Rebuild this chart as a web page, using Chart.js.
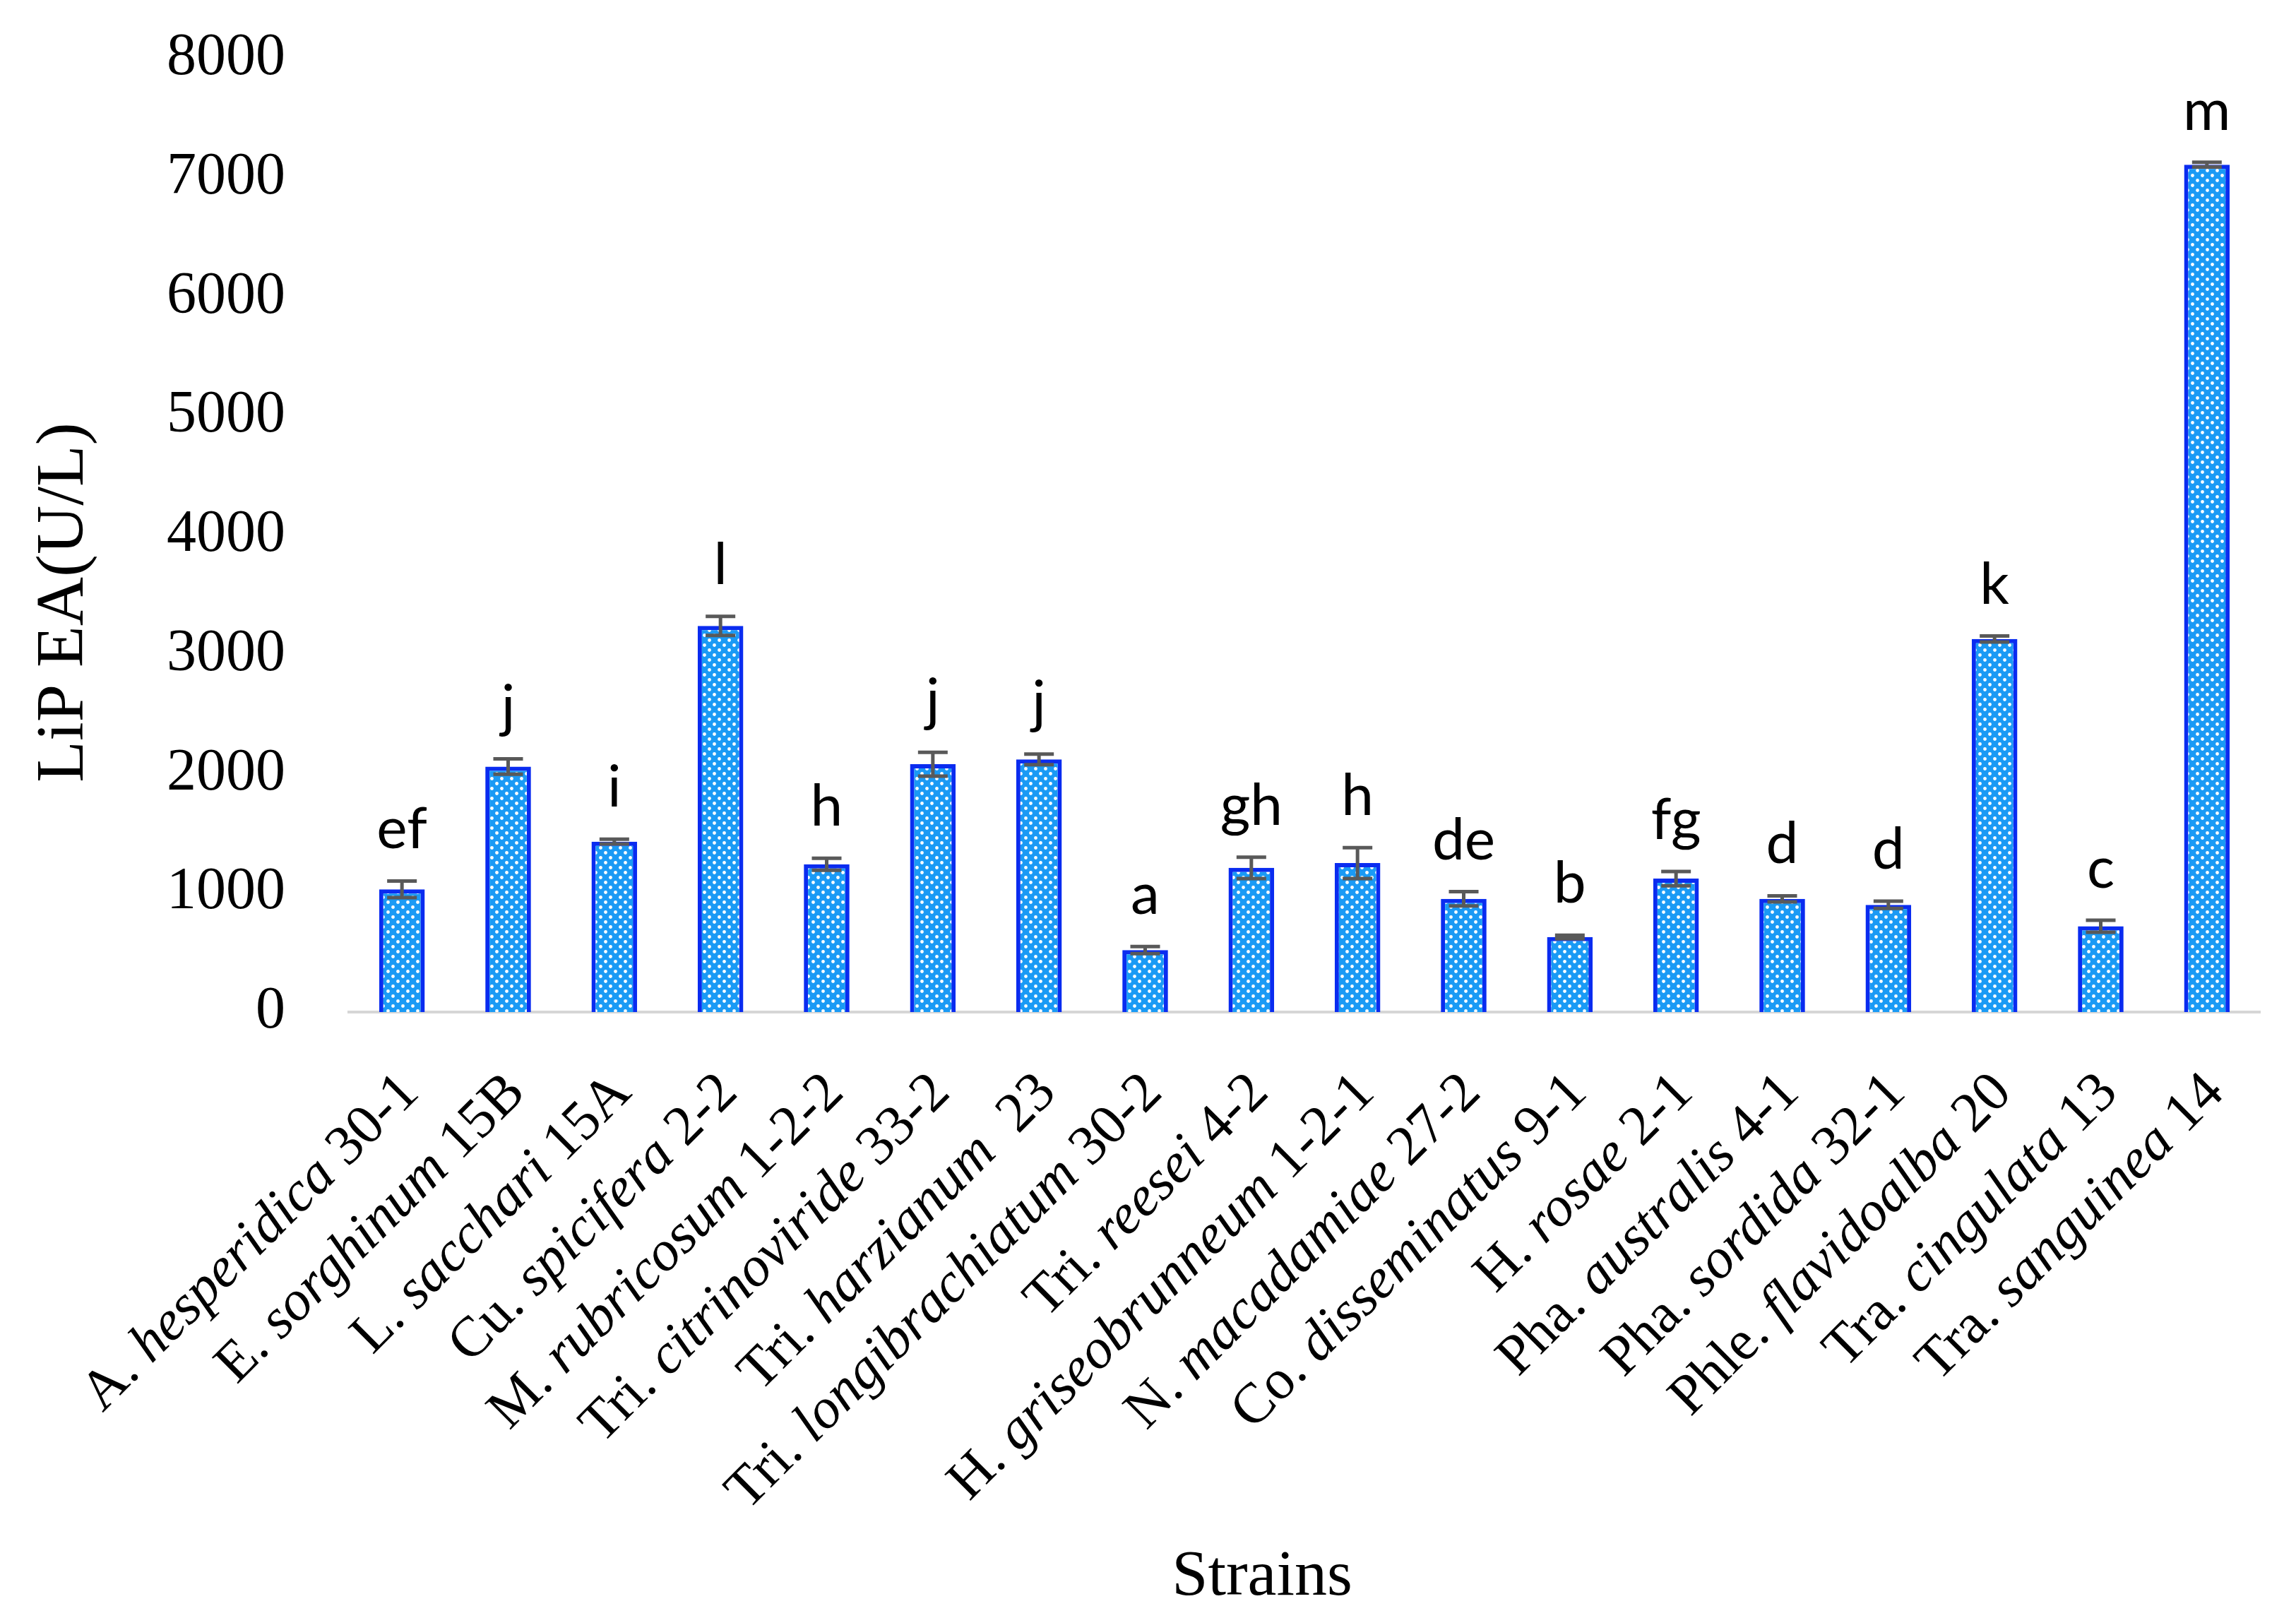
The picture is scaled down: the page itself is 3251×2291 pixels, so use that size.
<!DOCTYPE html>
<html lang="en">
<head>
<meta charset="UTF-8">
<script src="https://cdn.jsdelivr.net/npm/chart.js@4.4.0/dist/chart.umd.min.js"></script>
<title>LiP EA</title>
<style>
  html, body { margin: 0; padding: 0; background: #fff; }
  #wrap { width: 3251px; height: 2291px; }
</style>
</head>
<body>
<div id="wrap"><canvas id="myChart" width="3251" height="2291"></canvas></div>
<script>
// strains on the x axis (genus abbreviation, italic epithet, strain number)
var strains = [
  'A. hesperidica 30-1', 'E. sorghinum 15B', 'L. sacchari 15A', 'Cu. spicifera 2-2',
  'M. rubricosum 1-2-2', 'Tri. citrinoviride 33-2', 'Tri. harzianum  23',
  'Tri. longibrachiatum 30-2', 'Tri. reesei 4-2', 'H. griseobrunneum 1-2-1',
  'N. macadamiae 27-2', 'Co. disseminatus 9-1', 'H. rosae 2-1', 'Pha. australis 4-1',
  'Pha. sordida 32-1', 'Phle. flavidoalba 20', 'Tra. cingulata 13', 'Tra. sanguinea 14'
];
// LiP enzyme activity, U/L
var lipValues = [1030, 2060, 1430, 3240, 1240, 2080, 2120, 520, 1210, 1250, 950, 630, 1120, 950, 900, 3130, 720, 7110];
var lipErrors = [70, 65, 20, 80, 50, 100, 45, 30, 90, 130, 60, 15, 60, 25, 30, 25, 50, 20];
var groupLetters = ['ef', 'j', 'i', 'l', 'h', 'j', 'j', 'a', 'gh', 'h', 'de', 'b', 'fg', 'd', 'd', 'k', 'c', 'm'];
var yMin = 0, yMax = 8000, yStep = 1000;
var yTitle = 'LiP EA(U/L)';
var xTitle = 'Strains';

var serif = '"Liberation Serif", "DejaVu Serif", serif';

// light blue fill with white dots
function dotPattern(ctx) {
    var c = document.createElement('canvas');
    c.width = 14; c.height = 14;
    var g = c.getContext('2d');
    g.fillStyle = '#1a9af5';
    g.fillRect(0, 0, 14, 14);
    g.fillStyle = '#ffffff';
    [[3.5, 3.5], [10.5, 10.5]].forEach(function (p) {
        g.beginPath();
        g.arc(p[0], p[1], 2.4, 0, Math.PI * 2);
        g.fill();
    });
    return ctx.createPattern(c, 'repeat');
}

var errorBars = {
    id: 'errorBars',
    afterDatasetsDraw: function (chart) {
        var ctx = chart.ctx, y = chart.scales.y;
        var meta = chart.getDatasetMeta(0);
        ctx.save();
        meta.data.forEach(function (bar, i) {
            var x = bar.x;
            var top = y.getPixelForValue(lipValues[i] + lipErrors[i]);
            var bot = y.getPixelForValue(lipValues[i] - lipErrors[i]);
            ctx.strokeStyle = '#595959';
            ctx.lineWidth = 5;
            ctx.beginPath();
            ctx.moveTo(x, top); ctx.lineTo(x, bot);
            ctx.moveTo(x - 21, top); ctx.lineTo(x + 21, top);
            ctx.moveTo(x - 21, bot); ctx.lineTo(x + 21, bot);
            ctx.stroke();
            // significance letter
            ctx.fillStyle = '#000';
            ctx.font = '82px Lato, "Open Sans", sans-serif';
            ctx.textAlign = 'center';
            ctx.textBaseline = 'alphabetic';
            ctx.fillText(groupLetters[i], x, top - 46);
        });
        ctx.restore();
    }
};

// rotated strain names with italic species epithet, plus axis titles
var strainLabels = {
    id: 'strainLabels',
    afterDraw: function (chart) {
        var ctx = chart.ctx, xs = chart.scales.x, area = chart.chartArea;
        var base = area.bottom;
        var up = '80px ' + serif, it = 'italic 80px ' + serif;
        ctx.save();
        ctx.fillStyle = '#000';
        ctx.textBaseline = 'middle';
        ctx.textAlign = 'left';
        strains.forEach(function (name, i) {
            var a = name.indexOf(' '), b = name.lastIndexOf(' ');
            var parts = [[name.slice(0, a), up], [name.slice(a, b), it], [name.slice(b), up]];
            var total = 0;
            parts.forEach(function (p) { ctx.font = p[1]; total += ctx.measureText(p[0]).width; });
            ctx.save();
            ctx.translate(xs.getPixelForValue(i) + 12, base + 102);
            ctx.rotate(-Math.PI / 4);
            var cx = -total;
            parts.forEach(function (p) {
                ctx.font = p[1];
                ctx.fillText(p[0], cx, 0);
                cx += ctx.measureText(p[0]).width;
            });
            ctx.restore();
        });

        // axis titles
        ctx.textAlign = 'center';
        ctx.font = '92px ' + serif;
        ctx.fillText(xTitle, (area.left + area.right) / 2 - 60, 2234);
        ctx.save();
        ctx.translate(92, (area.top + area.bottom) / 2 + 95);
        ctx.rotate(-Math.PI / 2);
        ctx.font = '96px ' + serif;
        ctx.fillText(yTitle, 0, 0);
        ctx.restore();
        ctx.restore();
    }
};

var ctx = document.getElementById('myChart').getContext('2d');

var myChart = new Chart(ctx, {
    type: 'bar',
    data: {
        labels: strains,
        datasets: [{
            data: lipValues,
            backgroundColor: dotPattern(ctx),
            borderColor: '#0a2cf0',
            borderWidth: 6,
            categoryPercentage: 1.0,
            barPercentage: 0.43
        }]
    },
    options: {
        responsive: false,
        devicePixelRatio: 1,
        animation: false,
        layout: { padding: { top: 83, left: 30, right: 51, bottom: 0 } },
        plugins: {
            legend: { display: false },
            tooltip: { enabled: false }
        },
        scales: {
            x: {
                grid: { display: false },
                border: { display: true, color: '#d6d6d6', width: 4 },
                ticks: { display: false },
                afterFit: function (scale) { scale.height = 858; }
            },
            y: {
                min: yMin,
                max: yMax,
                grid: { display: false, drawTicks: true, tickLength: 90 },
                border: { display: false },
                ticks: {
                    stepSize: yStep,
                    padding: 0,
                    color: '#000',
                    font: { family: serif, size: 84 },
                    callback: function (v) { return String(v); }
                },
                afterFit: function (scale) {
                    scale.width = 464;
                    scale.paddingTop = 40;
                    scale.paddingBottom = 40;
                }
            }
        }
    },
    plugins: [errorBars, strainLabels]
});
</script>
</body>
</html>
